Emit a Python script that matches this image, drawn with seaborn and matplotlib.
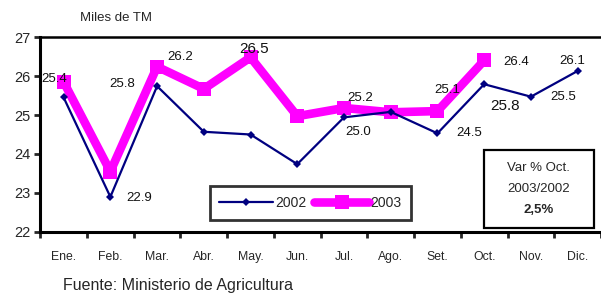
import seaborn as sns
import matplotlib.pyplot as plt
import pandas as pd
from matplotlib.patches import Rectangle

months = ['Ene.', 'Feb.', 'Mar.', 'Abr.', 'May.', 'Jun.', 'Jul.', 'Ago.', 'Set.', 'Oct.', 'Nov.', 'Dic.']
v2002 = [25.45, 22.9, 25.74, 24.57, 24.5, 23.74, 24.94, 25.08, 24.53, 25.79, 25.47, 26.13]
v2003 = [25.85, 23.55, 26.24, 25.67, 26.48, 24.97, 25.18, 25.07, 25.1, 26.4]

# labels as printed in the chart: (month index, text)
labels = [(0, '25.4'), (1, '25.8'), (2, '26.2'), (4, '26.5'), (6, '25.2'), (6, '25.0'),
          (8, '25.1'), (8, '24.5'), (9, '26.4'), (9, '25.8'), (10, '25.5'), (11, '26.1'), (1, '22.9')]
# positions of those labels in data units (dx, y) and their size
label_pos = [(-0.2, 25.92), (0.25, 25.8), (0.49, 26.49), (0.08, 26.69), (0.35, 25.44), (0.3, 24.56),
             (0.2, 25.64), (0.68, 24.54), (0.68, 26.36), (0.45, 25.23), (0.69, 25.46), (-0.12, 26.38),
             (0.62, 22.87)]
big = [False, False, False, True, False, False, False, False, False, True, False, False, False]

df = pd.DataFrame({
    'x': list(range(len(v2002))) + list(range(len(v2003))),
    'val': v2002 + v2003,
    'year': ['2002'] * len(v2002) + ['2003'] * len(v2003),
})

sns.set_style('white')
plt.rcParams['font.family'] = ['Liberation Sans', 'DejaVu Sans']

fig = plt.figure(figsize=(6.01, 2.94), dpi=100)
ax = fig.add_axes([0.067, 0.211, 0.933, 0.663])

sns.lineplot(data=df[df.year == '2003'], x='x', y='val', color='#ff00ff', lw=6.2,
             marker='s', markersize=9.5, markeredgewidth=0, sort=False, ax=ax, label='2003', zorder=2)
sns.lineplot(data=df[df.year == '2002'], x='x', y='val', color='#000080', lw=1.6,
             marker='D', markersize=4.5, markeredgewidth=0, sort=False, ax=ax, label='2002', zorder=3)

for (i, txt), (dx, y), b in zip(labels, label_pos, big):
    ax.text(i + dx, y, txt, fontsize=11 if b else 9.5, ha='center', va='center',
            color='#111111', zorder=5)

ax.set_xlim(-0.5, 11.5)
ax.set_ylim(22, 27)
ax.set_yticks(range(22, 28))
ax.set_xticks(range(12))
ax.set_xticklabels(months)
ax.set_xticks([i - 0.5 for i in range(13)], minor=True)
ax.tick_params(axis='x', which='major', length=0, pad=14, labelsize=8.8)
ax.tick_params(axis='x', which='minor', length=4, width=2, direction='out', bottom=True)
ax.tick_params(axis='y', length=4, width=2, direction='out', left=True, labelsize=10.5, pad=3)
ax.set_xlabel('')
ax.set_ylabel('')
for side in ['left', 'bottom', 'top']:
    ax.spines[side].set_visible(True)
    ax.spines[side].set_color('black')
    ax.spines[side].set_linewidth(2.2)
ax.spines['top'].set_linewidth(1.8)
ax.spines['right'].set_visible(False)

h, l = ax.get_legend_handles_labels()
leg = ax.legend(h[::-1], l[::-1], ncol=2, loc='lower left', bbox_to_anchor=(0.302, 0.062),
                fontsize=10, frameon=True, fancybox=False, handlelength=3.9, columnspacing=0.6,
                handletextpad=0.1, borderpad=0.7, borderaxespad=0)
leg.get_frame().set_edgecolor('black')
leg.get_frame().set_linewidth(2)

ax.add_patch(Rectangle((0.792, 0.02), 0.195, 0.4, transform=ax.transAxes, fill=False,
                       edgecolor='black', lw=1.6, zorder=6))
ax.text(0.889, 0.328, 'Var % Oct.', transform=ax.transAxes, ha='center', va='center', fontsize=9.5)
ax.text(0.889, 0.22, '2003/2002', transform=ax.transAxes, ha='center', va='center', fontsize=9.5)
ax.text(0.889, 0.113, '2,5%', transform=ax.transAxes, ha='center', va='center', fontsize=9.5,
        fontweight='bold')

fig.text(0.133, 0.94, 'Miles de TM', fontsize=9.5, va='center')
fig.text(0.105, 0.03, 'Fuente: Ministerio de Agricultura', fontsize=11.5, va='center')

fig.savefig('out.png', dpi=100)
